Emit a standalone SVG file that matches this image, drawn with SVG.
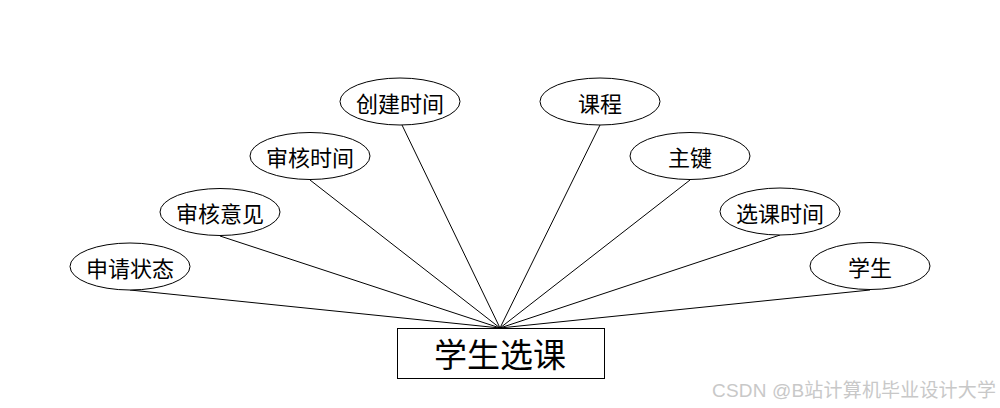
<svg xmlns="http://www.w3.org/2000/svg" width="1000" height="408" viewBox="0 0 1000 408">
<style>
.attr ellipse{fill:#fff;stroke:#000;stroke-width:1}
.t{font-family:"Noto Sans CJK SC","Liberation Sans",sans-serif;font-size:22px;text-anchor:middle;dominant-baseline:central;fill:#000}
.conn line{stroke:#000;stroke-width:1}
</style>
<rect width="1000" height="408" fill="#fff"/>
<g class="conn" id="connectors">
<line x1="130" y1="290" x2="500" y2="328"/>
<line x1="220" y1="236" x2="500" y2="328"/>
<line x1="310" y1="180" x2="500" y2="328"/>
<line x1="402" y1="125" x2="500" y2="328"/>
<line x1="600" y1="125" x2="500" y2="328"/>
<line x1="690" y1="180" x2="500" y2="328"/>
<line x1="780" y1="235" x2="500" y2="328"/>
<line x1="870" y1="290" x2="500" y2="328"/>
</g>
<g class="attr" id="n1"><ellipse cx="130" cy="266.5" rx="60" ry="23.5"/><text class="t" x="130" y="266.5">申请状态</text></g>
<g class="attr" id="n2"><ellipse cx="220" cy="212" rx="60" ry="23.5"/><text class="t" x="220" y="212">审核意见</text></g>
<g class="attr" id="n3"><ellipse cx="310" cy="156" rx="60" ry="23.5"/><text class="t" x="310" y="156">审核时间</text></g>
<g class="attr" id="n4"><ellipse cx="400" cy="101.5" rx="60" ry="23.5"/><text class="t" x="400" y="101.5">创建时间</text></g>
<g class="attr" id="n5"><ellipse cx="600" cy="101.5" rx="60" ry="23.5"/><text class="t" x="600" y="101.5">课程</text></g>
<g class="attr" id="n6"><ellipse cx="690" cy="156" rx="60" ry="23.5"/><text class="t" x="690" y="156">主键</text></g>
<g class="attr" id="n7"><ellipse cx="780" cy="211.5" rx="60" ry="23.5"/><text class="t" x="780" y="211.5">选课时间</text></g>
<g class="attr" id="n8"><ellipse cx="870" cy="266" rx="60" ry="23.5"/><text class="t" x="870" y="266">学生</text></g>
<g id="entity"><rect x="397.5" y="328.5" width="207" height="50" fill="#fff" stroke="#000"/><text class="t" x="500" y="353" style="font-size:33px">学生选课</text></g>
<text x="712" y="397" textLength="284" style="font-family:'Liberation Sans','Noto Sans CJK SC',sans-serif;font-size:19px;fill:#c8c8c8">CSDN @B站计算机毕业设计大学</text>
</svg>
